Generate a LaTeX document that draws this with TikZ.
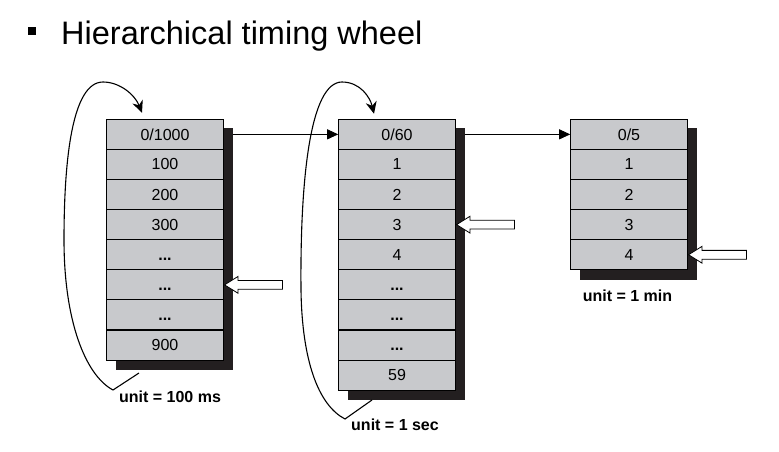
\documentclass[tikz,border=0pt]{standalone}
\usepackage{fontspec}
\setmainfont{Liberation Sans}
\usetikzlibrary{arrows.meta,shapes.arrows,backgrounds}

\definecolor{slotgray}{RGB}{200,201,204}
\definecolor{shadegray}{RGB}{35,31,32}
\newcommand\slotdots{\vphantom{0}\textbf{...}}

\tikzset{
  slot/.style={draw=black,line width=1.1pt,fill=slotgray,minimum width=116.5pt,
    minimum height=30.1pt,inner sep=0pt,font=\fontsize{16}{16}\selectfont},
  shade/.style={fill=shadegray},
  unitlabel/.style={inner sep=0pt,font=\fontsize{16}{16}\selectfont\bfseries},
  ptr/.style={single arrow,draw,fill=white,line width=0.8pt,inner xsep=0pt,inner ysep=4pt,
    minimum height=58pt,single arrow head extend=4pt,
    single arrow tip angle=64,shape border rotate=180,anchor=tip},
  link/.style={line width=0.8pt,-{Triangle[length=11pt,width=10pt]}},
  wrap/.style={line width=1.1pt,-{Stealth[length=12pt,width=11pt]}}
}

\begin{document}
\begin{tikzpicture}[x=1pt,y=-1pt]
  \useasboundingbox (0,0) rectangle (779,452);
  \fill (28,27) rectangle (36,35);
  \node[anchor=base west,inner sep=0pt,font=\fontsize{32.5}{39}\selectfont] (title) at (61,44.3) {Hierarchical timing wheel};

  % the three wheels
  \foreach \t [count=\r from 0] in {{0/1000},100,200,300,\slotdots,\slotdots,\slotdots,900}
    \node[slot] (w1r\r) at (165,{134.35+30.1*\r}) {\t};
  \foreach \t [count=\r from 0] in {{0/60},1,2,3,4,\slotdots,\slotdots,\slotdots,59}
    \node[slot] (w2r\r) at (397,{134.35+30.1*\r}) {\t};
  \foreach \t [count=\r from 0] in {{0/5},1,2,3,4}
    \node[slot] (w3r\r) at (629,{134.35+30.1*\r}) {\t};

  \begin{scope}[on background layer]
    \fill[shade] ([shift={(9.5,9.5)}]w1r0.north west) rectangle ([shift={(9.5,9.5)}]w1r7.south east);
    \fill[shade] ([shift={(9.5,9.5)}]w2r0.north west) rectangle ([shift={(9.5,9.5)}]w2r8.south east);
    \fill[shade] ([shift={(9.5,9.5)}]w3r0.north west) rectangle ([shift={(9.5,9.5)}]w3r4.south east);
  \end{scope}

  % overflow links
  \draw[link] ([xshift=9.5pt]w1r0.east) -- (w2r0.west);
  \draw[link] ([xshift=9.5pt]w2r0.east) -- (w3r0.west);

  % wrap-around
  \coordinate (tail1) at (139,373);
  \draw[wrap] (tail1) -- (113,390) .. controls (85,375) and (64,320) .. (64,240)
    .. controls (64,160) and (72,82) .. (103,82)
    .. controls (120,82) and (135,95) .. ([shift={(-23,-6)}]w1r0.north);
  \coordinate (tail2) at (372,400);
  \draw[wrap] (tail2) -- (345,419) .. controls (318,405) and (302,360) .. (301,290)
    .. controls (300,180) and (310,82) .. (342,82)
    .. controls (360,82) and (370,97) .. ([shift={(-23,-5)}]w2r0.north);

  % current slot
  \node[ptr] (ptr1) at (w1r5.east) {};
  \node[ptr] (ptr2) at (w2r3.east) {};
  \node[ptr] (ptr3) at (w3r4.east) {};

  \node[unitlabel] (unit1) at ([shift={(5,36)}]w1r7.south) {unit = 100 ms};
  \node[unitlabel] (unit2) at ([shift={(-2,34)}]w2r8.south) {unit = 1 sec};
  \node[unitlabel] (unit3) at ([shift={(-1.5,25)}]w3r4.south) {unit = 1 min};
\end{tikzpicture}
\end{document}
